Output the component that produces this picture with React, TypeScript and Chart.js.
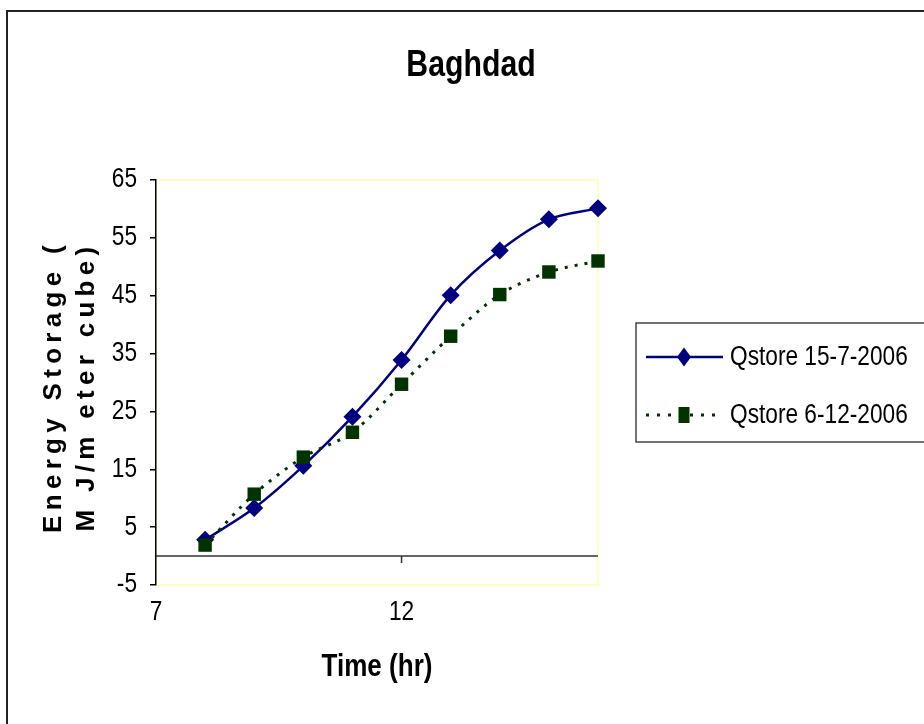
import React, { useEffect, useRef } from 'react';
import { Chart, registerables } from 'chart.js';

Chart.register(...registerables);

const chartTitle = 'Baghdad';
const hours = [8, 9, 10, 11, 12, 13, 14, 15, 16];
const qstoreJuly = [2.8, 8.3, 15.6, 24.1, 33.9, 45.1, 52.8, 58.2, 60.1];
const qstoreDec = [1.9, 10.7, 17.1, 21.4, 29.7, 38.0, 45.2, 49.1, 51.0];
const seriesLabels = ['Qstore 15-7-2006', 'Qstore 6-12-2006'];
const xTickValues = [7, 12];
const yTickValues = [-5, 5, 15, 25, 35, 45, 55, 65];
const xAxisTitle = 'Time (hr)';
const yAxisTitle = ['Energy Storage (', 'M J/m eter cube)'];

const FONT = "'Liberation Sans', Arial, sans-serif";
const CONDENSE = 0.84;

const framePlugin = {
  id: 'frame',
  beforeInit(chart: any) {
    const ctx = chart.ctx;
    const orig = ctx.fillText.bind(ctx);
    ctx.fillText = function (text: string, x: number, y: number, maxWidth?: number) {
      const sx = ctx.__sx === undefined ? CONDENSE : ctx.__sx;
      if (sx === 1) {
        if (maxWidth === undefined) orig(text, x, y);
        else orig(text, x, y, maxWidth);
        return;
      }
      ctx.save();
      ctx.translate(x, y);
      ctx.scale(sx, 1);
      if (maxWidth === undefined) orig(text, 0, 0);
      else orig(text, 0, 0, maxWidth / sx);
      ctx.restore();
    };
  },
  beforeDraw(chart: any) {
    const ctx = chart.ctx;
    const a = chart.chartArea;
    ctx.save();
    ctx.strokeStyle = '#222';
    ctx.lineWidth = 2;
    ctx.strokeRect(7, 11, 1000, 1000);
    ctx.strokeStyle = '#FFFFC0';
    ctx.lineWidth = 2;
    ctx.strokeRect(a.left, a.top, a.right - a.left, a.bottom - a.top);
    ctx.restore();
    const ys = chart.scales.y;
    if (ys && !ys.__patched) {
      const orig = ys.drawTitle;
      ys.drawTitle = function () {
        const c = this.ctx;
        c.save();
        c.__sx = 1;
        c.letterSpacing = '5.3px';
        c.translate(0, 4);
        orig.call(this);
        c.restore();
        c.__sx = undefined;
      };
      ys.__patched = true;
    }
  },
  beforeDatasetsDraw(chart: any) {
    const ctx = chart.ctx;
    const a = chart.chartArea;
    const y0 = chart.scales.y.getPixelForValue(0);
    ctx.save();
    ctx.strokeStyle = '#333';
    ctx.lineWidth = 1.5;
    ctx.beginPath();
    ctx.moveTo(a.left, y0);
    ctx.lineTo(a.right, y0);
    xTickValues.forEach((v) => {
      const px = chart.scales.x.getPixelForValue(v);
      if (px > a.left + 2) {
        ctx.moveTo(px, y0);
        ctx.lineTo(px, y0 + 7);
      }
    });
    ctx.stroke();
    ctx.restore();
  },
  afterDraw(chart: any) {
    const ctx = chart.ctx;
    ctx.save();
    const bx = 636, by = 323, bh = 119;
    ctx.strokeStyle = '#444';
    ctx.lineWidth = 1.5;
    ctx.strokeRect(bx, by, 400, bh);
    chart.data.datasets.forEach((ds: any, i: number) => {
      const cy = 357 + i * 58;
      ctx.save();
      ctx.strokeStyle = ds.borderColor;
      ctx.lineWidth = ds.borderWidth;
      ctx.setLineDash(ds.pointStyle === 'rect' ? [3, 8] : []);
      ctx.beginPath();
      ctx.moveTo(646, cy);
      ctx.lineTo(723, cy);
      ctx.stroke();
      ctx.restore();
      const mx = 684;
      ctx.fillStyle = ds.backgroundColor;
      ctx.beginPath();
      if (ds.pointStyle === 'rectRot') {
        ctx.moveTo(mx, cy - 9.5);
        ctx.lineTo(mx + 7, cy);
        ctx.lineTo(mx, cy + 9.5);
        ctx.lineTo(mx - 7, cy);
        ctx.closePath();
      } else {
        ctx.rect(mx - 5.5, cy - 8, 11, 16);
      }
      ctx.fill();
      ctx.fillStyle = '#000';
      ctx.font = `27px ${FONT}`;
      ctx.textBaseline = 'middle';
      ctx.textAlign = 'left';
      ctx.fillText(ds.label, 730, cy + 1);
    });
    ctx.restore();
  },
};

export default function App() {
  const ref = useRef<HTMLCanvasElement | null>(null);
  useEffect(() => {
    if (!ref.current) return;
    const chart = new Chart(ref.current, {
      type: 'line',
      data: {
        datasets: [
          {
            label: seriesLabels[0],
            data: hours.map((h, i) => ({ x: h, y: qstoreJuly[i] })),
            borderColor: '#000080',
            backgroundColor: '#000080',
            borderWidth: 2.5,
            pointStyle: 'rectRot',
            pointRadius: 9,
            pointBorderWidth: 0,
            tension: 0.3,
            clip: false,
            order: 1,
          },
          {
            label: seriesLabels[1],
            data: hours.map((h, i) => ({ x: h, y: qstoreDec[i] })),
            borderColor: '#003300',
            backgroundColor: '#003300',
            borderWidth: 3,
            borderDash: [3, 7],
            pointStyle: 'rect',
            pointRadius: 9.5,
            pointBorderWidth: 0,
            tension: 0.3,
            clip: false,
            order: 0,
          },
        ] as any,
      },
      options: {
        animation: false,
        responsive: false,
        devicePixelRatio: 1,
        layout: { padding: { left: 18, right: 0, top: 0, bottom: 0 } },
        plugins: {
          legend: { display: false },
          tooltip: { enabled: false },
          title: {
            display: true,
            text: chartTitle,
            color: '#000',
            font: { family: FONT, size: 36, weight: 'bold', lineHeight: 1.2 },
            padding: { top: 44, bottom: 92.8 },
          },
        },
        scales: {
          x: {
            type: 'linear',
            position: 'bottom',
            min: 7,
            max: 16,
            afterBuildTicks: (s: any) => {
              s.ticks = xTickValues.map((v) => ({ value: v }));
            },
            afterFit: (s: any) => {
              s.height = 139;
            },
            grid: { display: false },
            border: { display: false },
            ticks: {
              color: '#000',
              padding: 3,
              maxRotation: 0,
              autoSkip: false,
              font: { family: FONT, size: 27 },
            },
            title: {
              display: true,
              text: xAxisTitle,
              color: '#000',
              font: { family: FONT, size: 31, weight: 'bold', lineHeight: 1.2 },
              padding: { top: 0, bottom: 38 },
            },
          },
          y: {
            type: 'linear',
            position: 'left',
            min: -5,
            max: 65,
            afterBuildTicks: (s: any) => {
              s.ticks = yTickValues.map((v) => ({ value: v }));
            },
            afterFit: (s: any) => {
              s.width = 138;
            },
            grid: {
              display: true,
              drawOnChartArea: false,
              drawTicks: true,
              tickLength: 6,
              color: '#000',
              lineWidth: 1.5,
            },
            border: { display: true, color: '#000', width: 1.5 },
            ticks: {
              color: '#000',
              padding: 13,
              autoSkip: false,
              font: { family: FONT, size: 27 },
            },
            title: {
              display: true,
              text: yAxisTitle,
              color: '#000',
              font: { family: FONT, size: 26, weight: 'bold', lineHeight: 1.25 },
              padding: { top: 20, bottom: 0 },
            },
          },
          yR: {
            type: 'linear',
            position: 'right',
            display: true,
            afterFit: (s: any) => {
              s.width = 326;
            },
            grid: { display: false },
            border: { display: false },
            ticks: { display: false },
          },
        },
      },
      plugins: [framePlugin],
    } as any);
    return () => chart.destroy();
  }, []);
  return (
    <div style={{ position: 'absolute', left: 0, top: 0, width: 924, height: 724, background: '#fff' }}>
      <canvas ref={ref} width={924} height={724} style={{ display: 'block' }} />
    </div>
  );
}
